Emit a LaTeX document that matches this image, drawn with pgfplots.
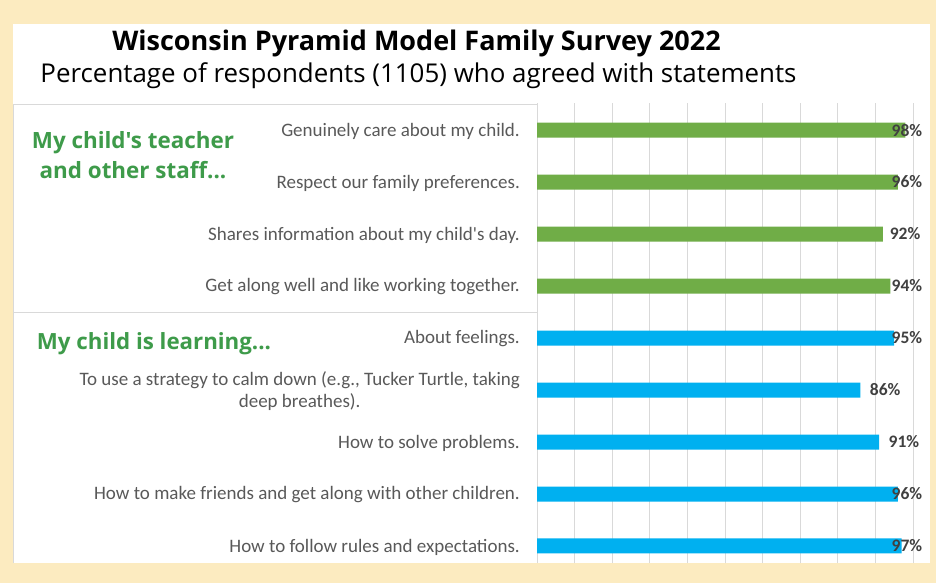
\documentclass[border=0pt]{standalone}
\usepackage{pgfplots}
\pgfplotsset{compat=1.18}
\usepackage{fontspec}
\setmainfont{Carlito}[Ligatures=TeXOff]
\newfontfamily\osfont{Open Sans}[Ligatures=TeXOff]
\definecolor{bgyellow}{HTML}{FCEBC0}
\definecolor{bargreen}{HTML}{70AD47}
\definecolor{barblue}{HTML}{00B0F0}
\definecolor{headgreen}{HTML}{3E9B4A}
\definecolor{labgray}{HTML}{595959}
\definecolor{valgray}{HTML}{404040}
\definecolor{gridgray}{HTML}{D9D9D9}
\begin{document}
\begin{tikzpicture}[x=1pt,y=1pt]
\path[use as bounding box] (0,0) rectangle (936,583);
\fill[bgyellow] (0,0) rectangle (936,583);
\fill[white] (13,20) rectangle (930,559);
\draw[gridgray, line width=0.8pt] (13,20) -- (13,479) -- (537,479);
\draw[gridgray, line width=0.8pt] (13,271) -- (537,271);
\node[font=\osfont\bfseries\fontsize{27}{32}\selectfont] at (416.5,540) {Wisconsin Pyramid Model Family Survey 2022};
\node[font=\osfont\fontsize{25.9}{31}\selectfont] at (418.5,507) {Percentage of respondents (1105) who agreed with statements};
\node[font=\osfont\bfseries\fontsize{22.4}{30}\selectfont, text=headgreen, align=center] at (133,428) {My child's teacher\\and other staff...};
\node[font=\osfont\bfseries\fontsize{22.3}{30}\selectfont, text=headgreen] at (154,239) {My child is learning...};
\begin{axis}[
  at={(537pt,20pt)}, anchor=south west,
  scale only axis, width=376pt, height=460pt,
  xmin=0, xmax=100, ymin=-0.327, ymax=8.52,
  clip=false,
  axis line style={draw=none},
  tick style={draw=none},
  major tick length=0pt,
  xtick={0,10,...,100}, xticklabels={},
  xmajorgrids, grid style={draw=gridgray, line width=1pt},
  ytick={0,1,...,8},
  yticklabels={How to follow rules and expectations.,
    How to make friends and get along with other children.,
    How to solve problems.,
    {To use a strategy to calm down (e.g., Tucker Turtle, taking\\deep breathes).},
    About feelings.,
    Get along well and like working together.,
    Shares information about my child's day.,
    Respect our family preferences.,
    Genuinely care about my child.},
  yticklabel style={font=\fontsize{19}{22}\selectfont, text=labgray, anchor=east, inner sep=0pt, xshift=-17pt, yshift=-1pt, align=center},
]
\addplot[xbar, bar shift=0pt, bar width=15pt, fill=bargreen, draw=none] coordinates {(98,8) (96,7) (92,6) (94,5)};
\addplot[xbar, bar shift=0pt, bar width=15pt, fill=barblue, draw=none] coordinates {(95,4) (86,3) (91,2) (96,1) (97,0)};
\addplot[only marks, mark=*, mark size=0pt, mark options={draw=none, fill=none},
  point meta=explicit symbolic,
  nodes near coords={\pgfplotspointmeta\%},
  nodes near coords align=horizontal,
  every node near coord/.append style={anchor=center, inner sep=0pt, font=\bfseries\fontsize{17.5}{20}\selectfont, text=valgray},
] table[x=lx, y=y, meta=v] {
lx y v
98.4 8 98
98.4 7 96
97.9 6 92
98.4 5 94
98.4 4 95
92.6 3 86
97.6 2 91
98.4 1 96
98.4 0 97
};
\end{axis}
\end{tikzpicture}
\end{document}
